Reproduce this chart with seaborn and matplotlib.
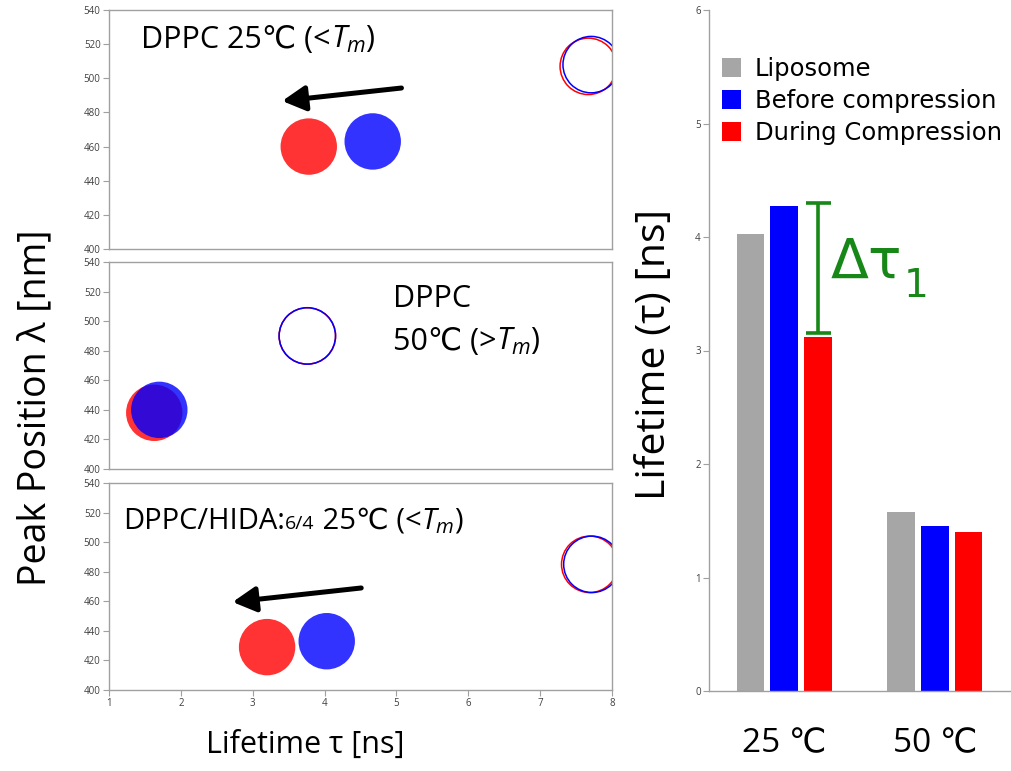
import matplotlib
matplotlib.use("Agg")
import matplotlib.pyplot as plt
import seaborn as sns
import pandas as pd
import numpy as np

# ---------------- data ----------------
# Left panels: peak position vs lifetime
panel_titles = ["DPPC 25℃", "DPPC 50℃", "DPPC/HIDA 25℃"]
during_tau = [3.78, 1.63, 3.20]          # filled red (during compression)
during_lam = [460, 438, 429]
before_tau = [4.67, 1.70, 4.03]          # filled blue (before compression)
before_lam = [463, 440, 433]
open_red_tau = [7.67, 3.76, 7.69]        # open circles (liposome)
open_red_lam = [507, 490, 485]
open_blue_tau = [7.71, 3.76, 7.72]
open_blue_lam = [508, 490, 485]
x_ticks = [1, 2, 3, 4, 5, 6, 7, 8]
y_ticks = [400, 420, 440, 460, 480, 500, 520, 540]

# Right panel: lifetime bars
temps = ["25 ℃", "50 ℃"]
series = ["Liposome", "Before compression", "During Compression"]
liposome = [4.03, 1.58]
before = [4.27, 1.45]
during = [3.12, 1.40]
bar_yticks = [0, 1, 2, 3, 4, 5, 6]

# ---------------- style ----------------
sns.set_theme(style="white")
plt.rcParams["font.family"] = ["Open Sans", "DejaVu Sans"]
plt.rcParams["mathtext.fontset"] = "custom"
plt.rcParams["mathtext.rm"] = "Open Sans"
plt.rcParams["mathtext.it"] = "Open Sans:italic"

RED = "#ff0000"
BLUE = "#0000ff"
GRAY = "#a6a6a6"
SPINE = "#a0a0a0"
TICKC = "#404040"
GREEN = "#178717"

fig = plt.figure(figsize=(10.11, 7.71), dpi=100)
W, H = 1011, 771


def rect(l, t, r, b):
    return [l / W, 1 - b / H, (r - l) / W, (b - t) / H]


left_rects = [rect(109, 10, 612, 249), rect(109, 262, 612, 469), rect(109, 483, 612, 690)]
S = 1650
axes = []
for i, rr in enumerate(left_rects):
    ax = fig.add_axes(rr)
    axes.append(ax)
    sns.scatterplot(x=[during_tau[i]], y=[during_lam[i]], color=RED, alpha=0.8,
                    s=S, edgecolor="none", ax=ax, legend=False)
    sns.scatterplot(x=[before_tau[i]], y=[before_lam[i]], color=BLUE, alpha=0.8,
                    s=S, edgecolor="none", ax=ax, legend=False)
    sns.scatterplot(x=[open_red_tau[i]], y=[open_red_lam[i]], facecolor="none",
                    edgecolor=RED, linewidth=1.1, s=S, ax=ax, legend=False)
    sns.scatterplot(x=[open_blue_tau[i]], y=[open_blue_lam[i]], facecolor="none",
                    edgecolor=BLUE, linewidth=1.1, s=S, ax=ax, legend=False)
    ax.set_xlim(1, 8)
    ax.set_ylim(400, 540)
    ax.set_xticks(x_ticks)
    ax.set_yticks(y_ticks)
    ax.set_xlabel("")
    ax.set_ylabel("")
    for sp in ax.spines.values():
        sp.set_color(SPINE)
        sp.set_linewidth(1.0)
    ax.tick_params(axis="both", which="both", direction="out", length=4, width=0.8,
                   color=SPINE, labelsize=7, labelcolor=TICKC, pad=2,
                   left=True, bottom=True)
    if i < 2:
        ax.tick_params(axis="x", bottom=False, labelbottom=False)

arrow_kw = dict(arrowstyle="-|>,head_length=0.7,head_width=0.38", lw=3.6,
                color="black", shrinkA=0, shrinkB=0, mutation_scale=20)
axes[0].annotate("", xy=(3.41, 486.7), xytext=(5.07, 494.3), arrowprops=arrow_kw)
axes[2].annotate("", xy=(2.72, 459.5), xytext=(4.51, 469), arrowprops=arrow_kw)


def label_with_tm(ax, x, y, prefix, size, anchor=None):
    """Plain text (℃ via font fallback) followed by mathtext T_m on the same baseline."""
    if anchor is None:
        ta = ax.text(x, y, prefix, fontsize=size, va="baseline", ha="left",
                     color="black")
    else:
        ta = ax.annotate(prefix, xy=(1, y), xycoords=(anchor, "data"), fontsize=size,
                         va="baseline", ha="left", color="black")
    tb = ax.annotate("$T_m$)", xy=(1, y), xycoords=(ta, "data"), fontsize=size,
                     va="baseline", ha="left", color="black")
    return ta, tb


label_with_tm(axes[0], 1.45, 517.7, "DPPC 25℃ (<", 22)
axes[1].text(4.95, 509.6, "DPPC", fontsize=22, va="baseline", ha="left", color="black")
label_with_tm(axes[1], 4.95, 480.5, "50℃ (>", 22)

t1 = axes[2].text(1.2, 509, "DPPC/HIDA:", fontsize=21, va="baseline", ha="left",
                  color="black")
t2 = axes[2].annotate("6/4", xy=(1, 509), xycoords=(t1, "data"), fontsize=14,
                      va="baseline", ha="left", color="black")
label_with_tm(axes[2], None, 509, " 25℃ (<", 21, anchor=t2)

fig.text(35 / W, 1 - 408 / H, "Peak Position λ [nm]", rotation=90, fontsize=27,
         ha="center", va="center", color="black")
fig.text(305 / W, 1 - 745 / H, "Lifetime τ [ns]", fontsize=22, ha="center",
         va="center", color="black")

# ---------------- right panel ----------------
axr = fig.add_axes(rect(709, 10, 1010, 691))
df = pd.DataFrame({
    "Temperature": temps * 3,
    "Lifetime": liposome + before + during,
    "Series": [series[0]] * 2 + [series[1]] * 2 + [series[2]] * 2,
})
sns.barplot(data=df, x="Temperature", y="Lifetime", hue="Series",
            hue_order=series, palette=[GRAY, BLUE, RED], saturation=1,
            width=0.67, gap=0.18, ax=axr, linewidth=0, edgecolor="none")
axr.set_xlim(-0.5, 1.5)
axr.set_ylim(0, 6)
axr.set_yticks(bar_yticks)
axr.set_xlabel("")
axr.set_ylabel("")
fig.text(655 / W, 1 - 355 / H, "Lifetime (τ) [ns]", rotation=90, fontsize=29.5,
         ha="center", va="center", color="black")
for side in ["top", "right"]:
    axr.spines[side].set_visible(False)
for side in ["left", "bottom"]:
    axr.spines[side].set_color(SPINE)
    axr.spines[side].set_linewidth(1.0)
axr.tick_params(axis="y", left=True, direction="out", length=4, width=0.8,
                color=SPINE, labelsize=7, labelcolor=TICKC, pad=2)
axr.tick_params(axis="x", bottom=False, labelsize=24, pad=20, labelcolor="black")

# delta bracket above the red 25 °C bar
red_bar = axr.containers[2][0]
xc = red_bar.get_x() + red_bar.get_width() / 2
lo = during[0] + 0.035
hi = before[0] + 0.03
axr.errorbar([xc], [(lo + hi) / 2], yerr=[(hi - lo) / 2], color=GREEN, capsize=9,
             elinewidth=2.6, capthick=2.6, fmt="none")
td = axr.text(0.31, 3.64, "Δτ", fontsize=40, color=GREEN, ha="left",
              va="baseline", family=["DejaVu Sans"])
axr.annotate("1", xy=(1.02, 3.64), xycoords=(td, "data"), xytext=(0, -14),
             textcoords="offset points", fontsize=28, color=GREEN,
             ha="left", va="baseline", family=["DejaVu Sans"])

leg = axr.legend(loc="upper left", bbox_to_anchor=(0.01, 0.945), frameon=False,
                 handlelength=0.8, handleheight=0.8,
                 handletextpad=0.55, labelspacing=0.32, borderaxespad=0,
                 prop={"family": "DejaVu Sans", "size": 17.5})
for t in leg.get_texts():
    t.set_color("black")

fig.savefig("out.png", dpi=100)
